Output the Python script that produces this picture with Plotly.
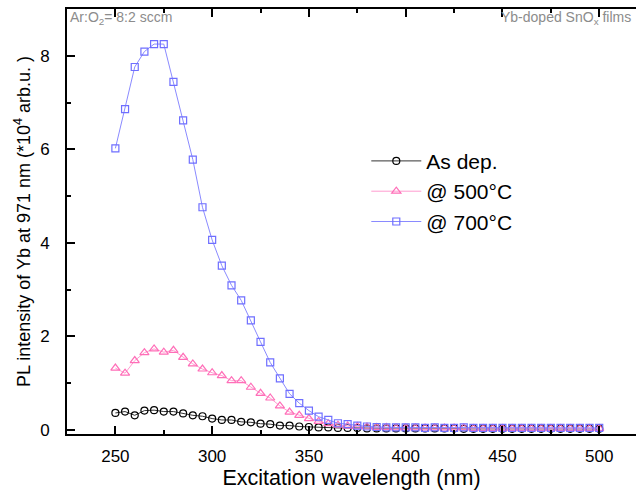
import plotly.graph_objects as go

wavelength = [250, 255, 260, 265, 270, 275, 280, 285, 290, 295,
              300, 305, 310, 315, 320, 325, 330, 335, 340, 345,
              350, 355, 360, 365, 370, 375, 380, 385, 390, 395,
              400, 405, 410, 415, 420, 425, 430, 435, 440, 445,
              450, 455, 460, 465, 470, 475, 480, 485, 490, 495, 500]

as_dep = [0.36, 0.39, 0.31, 0.41, 0.42, 0.39, 0.39, 0.35, 0.31, 0.29,
          0.24, 0.21, 0.21, 0.17, 0.16, 0.13, 0.12, 0.09, 0.09, 0.07,
          0.06, 0.05, 0.05, 0.04, 0.04, 0.04, 0.03, 0.03, 0.03, 0.03,
          0.03, 0.03, 0.03, 0.03, 0.03, 0.03, 0.02, 0.02, 0.02, 0.02,
          0.02, 0.02, 0.02, 0.02, 0.02, 0.02, 0.02, 0.02, 0.02, 0.02, 0.02]

t500 = [1.32, 1.21, 1.48, 1.65, 1.73, 1.66, 1.70, 1.55, 1.41, 1.30,
        1.22, 1.16, 1.05, 1.05, 0.91, 0.78, 0.68, 0.51, 0.38, 0.31,
        0.24, 0.18, 0.13, 0.10, 0.08, 0.07, 0.06, 0.05, 0.05, 0.04,
        0.04, 0.04, 0.04, 0.04, 0.04, 0.04, 0.04, 0.03, 0.03, 0.03,
        0.03, 0.03, 0.03, 0.03, 0.03, 0.03, 0.03, 0.03, 0.03, 0.03, 0.03]

t700 = [6.02, 6.86, 7.76, 8.09, 8.25, 8.25, 7.44, 6.62, 5.78, 4.76,
        4.06, 3.51, 3.09, 2.77, 2.34, 1.88, 1.44, 1.10, 0.77, 0.57,
        0.41, 0.28, 0.21, 0.14, 0.12, 0.09, 0.07, 0.06, 0.05, 0.05,
        0.05, 0.05, 0.04, 0.05, 0.04, 0.04, 0.05, 0.04, 0.04, 0.04,
        0.04, 0.04, 0.04, 0.04, 0.04, 0.04, 0.04, 0.04, 0.04, 0.04, 0.04]

series_names = ["As dep.", "@ 500°C", "@ 700°C"]
x_ticks = [250, 300, 350, 400, 450, 500]
y_ticks = [0, 2, 4, 6, 8]

FONT = "Arial, Liberation Sans, sans-serif"

fig = go.Figure()
fig.add_trace(go.Scatter(
    x=wavelength, y=as_dep, name=series_names[0], mode="lines+markers",
    line=dict(color="#333333", width=1),
    marker=dict(symbol="circle-open", size=7, color="#000000", line=dict(width=1.2)),
))
fig.add_trace(go.Scatter(
    x=wavelength, y=t500, name=series_names[1], mode="lines+markers",
    line=dict(color="#ff9ccf", width=1),
    marker=dict(symbol="triangle-up-open", size=8, color="#ff6eb8", line=dict(width=1.2)),
))
fig.add_trace(go.Scatter(
    x=wavelength, y=t700, name=series_names[2], mode="lines+markers",
    line=dict(color="#8a8aff", width=1),
    marker=dict(symbol="square-open", size=7, color="#6f6fff", line=dict(width=1.2)),
))

fig.update_layout(
    width=636, height=497,
    margin=dict(l=67, r=0, t=9, b=63, autoexpand=False),
    paper_bgcolor="white", plot_bgcolor="white",
    font=dict(family=FONT, color="black"),
    showlegend=True,
    legend=dict(
        x=0.526, y=0.69, xanchor="left", yanchor="top",
        font=dict(size=21, family=FONT, color="black"),
        bgcolor="rgba(0,0,0,0)", itemwidth=50, tracegroupgap=0,
    ),
    annotations=[
        dict(text="Ar:O<sub>2</sub>= 8:2 sccm", xref="paper", yref="paper",
             x=0.002, y=0.979, xanchor="left", yanchor="middle", showarrow=False,
             font=dict(size=14, color="#8c8c8c", family=FONT)),
        dict(text="Yb-doped SnO<sub>x</sub> films", xref="paper", yref="paper",
             x=0.995, y=0.979, xanchor="right", yanchor="middle", showarrow=False,
             font=dict(size=14, color="#8c8c8c", family=FONT)),
    ],
)

fig.update_xaxes(
    range=[225, 519], tickvals=x_ticks, ticks="inside", ticklen=8, tickwidth=1.5,
    tickcolor="black", showline=True, linecolor="black", linewidth=2, mirror="ticks",
    showgrid=False, zeroline=False, tickfont=dict(size=17, family=FONT),
    ticklabelstandoff=6, automargin=False,
    minor=dict(ticks="inside", ticklen=4, tickwidth=1.5, tickcolor="black", dtick=25, tick0=250, showgrid=False),
    title=dict(text="Excitation wavelength (nm)", font=dict(size=21.5, family=FONT), standoff=5),
)
fig.update_yaxes(
    range=[-0.09, 9.0], tickvals=y_ticks, ticks="inside", ticklen=8, tickwidth=1.5,
    tickcolor="black", showline=True, linecolor="black", linewidth=2, mirror=False,
    showgrid=False, zeroline=False, tickfont=dict(size=17, family=FONT),
    ticklabelstandoff=12, automargin=False,
    minor=dict(ticks="inside", ticklen=4, tickwidth=1.5, tickcolor="black", dtick=1, tick0=0, showgrid=False),
    title=dict(text="PL intensity of Yb at 971 nm (*10<sup>4</sup> arb.u. )", font=dict(size=18, family=FONT), standoff=5),
)

fig.write_html(
    "out.html",
    config={"displayModeBar": False},
    post_script="document.body.style.margin='0';document.body.style.overflow='hidden';",
)
